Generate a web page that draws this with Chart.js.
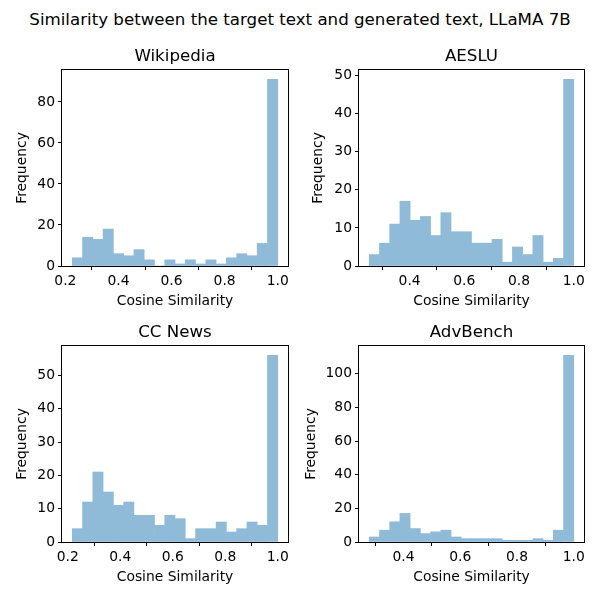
<!DOCTYPE html>
<html>
<head>
<meta charset="utf-8">
<script src="https://cdn.jsdelivr.net/npm/chart.js@4.4.1/dist/chart.umd.min.js"></script>
<style>
  body { margin: 0; background: #fff; }
  #wrap { position: relative; width: 600px; height: 600px; }
  #suptitle { position: absolute; left: 0; top: 10px; width: 600px; text-align: center;
              font-family: 'DejaVu Sans'; font-size: 16.67px; line-height: 20px; color: #000; }
  canvas { position: absolute; }
</style>
</head>
<body>
<div id="wrap">
  <div id="suptitle">Similarity between the target text and generated text, LLaMA 7B</div>
  <canvas id="wiki" width="300" height="276" style="left:0px;top:36px"></canvas>
  <canvas id="aeslu" width="300" height="276" style="left:300px;top:36px"></canvas>
  <canvas id="ccnews" width="300" height="276" style="left:0px;top:312px"></canvas>
  <canvas id="advbench" width="300" height="276" style="left:300px;top:312px"></canvas>
</div>
<script>
// histogram counts, 20 bins each
const wikiCounts = [4, 14, 13, 18, 6, 5, 8, 3, 0, 3, 1, 3, 1, 3, 1, 4, 6, 5, 11, 91];
const aesluCounts = [3, 6, 11, 17, 12, 13, 8, 14, 9, 9, 6, 6, 7, 1, 5, 3, 8, 1, 2, 49];
const ccNewsCounts = [4, 12, 21, 15, 11, 12, 8, 8, 5, 8, 7, 1, 4, 4, 6, 3, 4, 6, 5, 56];
const advBenchCounts = [3, 7, 12, 17, 8, 5, 6, 7, 3, 2, 2, 2, 2, 1, 1, 1, 2, 1, 7, 111];

// first and last bin edge
const wikiBins = [0.226, 1.0];
const aesluBins = [0.2525, 1.0];
const ccNewsBins = [0.217, 1.0];
const advBenchBins = [0.279, 1.0];

// tick values
const wikiXTicks = [0.2, 0.4, 0.6, 0.8, 1.0];
const aesluXTicks = [0.4, 0.6, 0.8, 1.0];
const ccNewsXTicks = [0.2, 0.4, 0.6, 0.8, 1.0];
const advBenchXTicks = [0.4, 0.6, 0.8, 1.0];
const wikiYTicks = [0, 20, 40, 60, 80];
const aesluYTicks = [0, 10, 20, 30, 40, 50];
const ccNewsYTicks = [0, 10, 20, 30, 40, 50];
const advBenchYTicks = [0, 20, 40, 60, 80, 100];

const FONT = 'DejaVu Sans';
Chart.defaults.font.family = FONT;
Chart.defaults.color = '#000';

// full box around the plot area
const framePlugin = {
  id: 'frame',
  afterDatasetsDraw(chart) {
    const a = chart.chartArea;
    const ctx = chart.ctx;
    ctx.save();
    ctx.strokeStyle = '#000';
    ctx.lineWidth = 1;
    ctx.strokeRect(Math.round(a.left) - 0.5, Math.round(a.top) - 0.5,
                   Math.round(a.right - a.left) + 1, Math.round(a.bottom - a.top) + 1);
    ctx.restore();
  }
};

function makePanel(id, title, counts, bins, xTicks, yTicks, yAxisWidth, padRight, yTitlePad) {
  const w = (bins[1] - bins[0]) / counts.length;
  const data = counts.map((c, i) => ({ x: bins[0] + (i + 0.5) * w, y: c }));
  const span = bins[1] - bins[0];
  const tickGrid = { drawOnChartArea: false, drawTicks: true, tickLength: 4, color: '#000', lineWidth: 1 };

  new Chart(document.getElementById(id), {
    type: 'bar',
    data: {
      datasets: [{
        data: data,
        backgroundColor: 'rgb(143, 187, 217)',
        borderWidth: 0,
        barPercentage: 1,
        categoryPercentage: 1
      }]
    },
    options: {
      responsive: false,
      animation: false,
      layout: { padding: { left: 0, right: padRight, top: 0, bottom: 0 } },
      plugins: {
        legend: { display: false },
        tooltip: { enabled: false },
        title: {
          display: true,
          fullSize: false,
          text: title,
          color: '#000',
          font: { family: FONT, size: 16.67, weight: 'normal' },
          padding: { top: 11, bottom: 3 }
        }
      },
      scales: {
        x: {
          type: 'linear',
          min: bins[0] - 0.05 * span,
          max: bins[1] + 0.05 * span,
          offset: false,
          afterBuildTicks: s => { s.ticks = xTicks.map(v => ({ value: v })); },
          afterFit: s => { s.height = 46; },
          grid: tickGrid,
          border: { display: false },
          ticks: { color: '#000', font: { size: 13.89 }, padding: 3, maxRotation: 0, autoSkip: false },
          title: { display: true, text: 'Cosine Similarity', color: '#000',
                   font: { size: 13.89 }, padding: { top: 0, bottom: 2.6 } }
        },
        y: {
          min: 0,
          max: 1.05 * Math.max(...counts),
          afterBuildTicks: s => { s.ticks = yTicks.map(v => ({ value: v })); },
          afterFit: s => { s.width = yAxisWidth; },
          grid: tickGrid,
          border: { display: false },
          ticks: { color: '#000', font: { size: 13.89 }, padding: 3, autoSkip: false },
          title: { display: true, text: 'Frequency', color: '#000',
                   font: { size: 13.89 }, padding: { top: yTitlePad, bottom: 0 } }
        }
      }
    },
    plugins: [framePlugin]
  });
}

makePanel('wiki', 'Wikipedia', wikiCounts, wikiBins, wikiXTicks, wikiYTicks, 62, 12, 13.7);
makePanel('aeslu', 'AESLU', aesluCounts, aesluBins, aesluXTicks, aesluYTicks, 59, 16, 9.7);
makePanel('ccnews', 'CC News', ccNewsCounts, ccNewsBins, ccNewsXTicks, ccNewsYTicks, 62, 12, 13.7);
makePanel('advbench', 'AdvBench', advBenchCounts, advBenchBins, advBenchXTicks, advBenchYTicks, 59, 16, 2.7);
</script>
</body>
</html>
